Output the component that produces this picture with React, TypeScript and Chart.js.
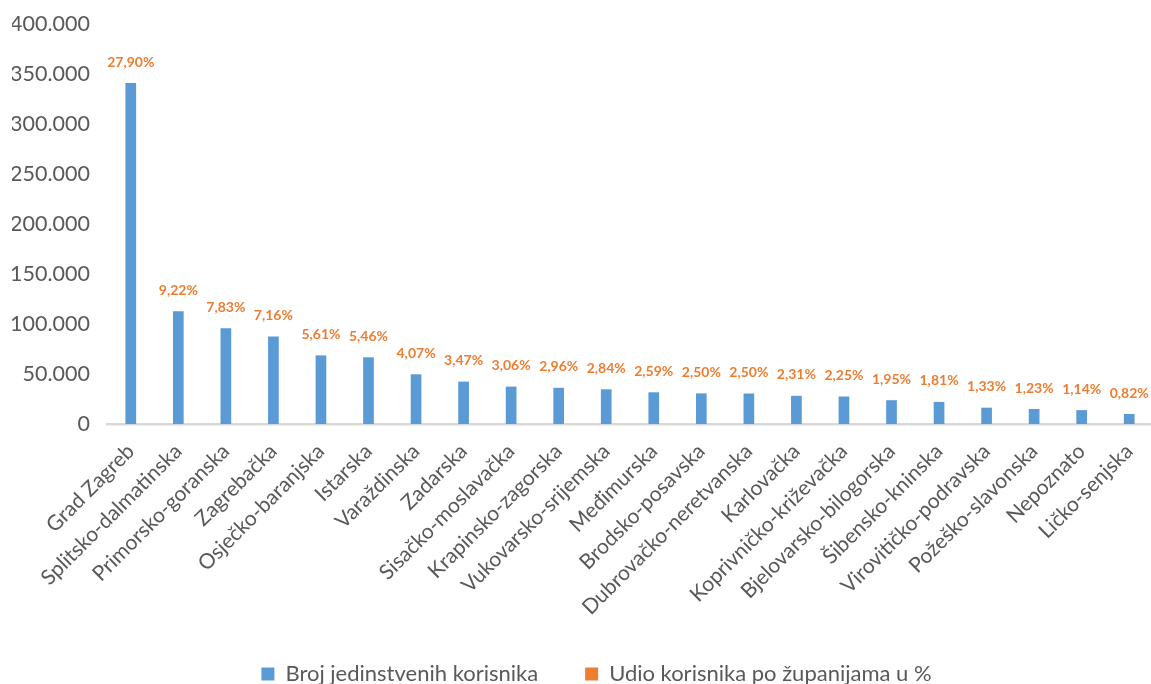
import React, { useEffect, useRef } from "react";
import { Chart, registerables } from "chart.js";

Chart.register(...registerables);

const categories = [
  "Grad Zagreb",
  "Splitsko-dalmatinska",
  "Primorsko-goranska",
  "Zagrebačka",
  "Osječko-baranjska",
  "Istarska",
  "Varaždinska",
  "Zadarska",
  "Sisačko-moslavačka",
  "Krapinsko-zagorska",
  "Vukovarsko-srijemska",
  "Međimurska",
  "Brodsko-posavska",
  "Dubrovačko-neretvanska",
  "Karlovačka",
  "Koprivničko-križevačka",
  "Bjelovarsko-bilogorska",
  "Šibensko-kninska",
  "Virovitičko-podravska",
  "Požeško-slavonska",
  "Nepoznato",
  "Ličko-senjska",
];

const users = [
  341000, 112700, 95700, 87500, 68600, 66700, 49700, 42400, 37400, 36200, 34700,
  31700, 30600, 30500, 28200, 27500, 23800, 22100, 16300, 15000, 13900, 10000,
];

const sharePct = [
  27.9, 9.22, 7.83, 7.16, 5.61, 5.46, 4.07, 3.47, 3.06, 2.96, 2.84, 2.59, 2.5,
  2.5, 2.31, 2.25, 1.95, 1.81, 1.33, 1.23, 1.14, 0.82,
];

const yTicks = [0, 50000, 100000, 150000, 200000, 250000, 300000, 350000, 400000];

const seriesNames = ["Broj jedinstvenih korisnika", "Udio korisnika po županijama u %"];

const BLUE = "#5B9BD5";
const ORANGE = "#ED7D31";
const TEXT = "#595959";
const FONT = "Lato, 'Open Sans', sans-serif";

function formatThousands(v: number): string {
  const s = Math.round(v).toString();
  return s.replace(/\B(?=(\d{3})+(?!\d))/g, ".");
}

function formatPct(v: number): string {
  return v.toFixed(2).replace(".", ",") + "%";
}

const pctLabelPlugin = {
  id: "pctLabels",
  afterDatasetsDraw(chart: any) {
    const ctx = chart.ctx;
    const meta = chart.getDatasetMeta(0);
    const pctData = chart.data.datasets[1].data as number[];
    ctx.save();
    ctx.font = `bold 14px ${FONT}`;
    ctx.fillStyle = ORANGE;
    ctx.textAlign = "center";
    ctx.textBaseline = "middle";
    meta.data.forEach((bar: any, i: number) => {
      ctx.fillText(formatPct(pctData[i]), bar.x, bar.y - 21);
    });
    ctx.restore();
  },
};

export default function App() {
  const ref = useRef<HTMLCanvasElement | null>(null);

  useEffect(() => {
    if (!ref.current) return;
    const chart = new Chart(ref.current, {
      type: "bar",
      data: {
        labels: categories,
        datasets: [
          {
            type: "bar",
            label: seriesNames[0],
            data: users,
            backgroundColor: BLUE,
            borderWidth: 0,
            barPercentage: 0.45,
            categoryPercentage: 0.5,
            yAxisID: "y",
          },
          {
            type: "line",
            label: seriesNames[1],
            data: sharePct,
            backgroundColor: ORANGE,
            borderColor: ORANGE,
            borderWidth: 0,
            showLine: false,
            pointRadius: 0,
            yAxisID: "yPct",
          } as any,
        ],
      },
      options: {
        responsive: false,
        animation: false,
        events: [],
        layout: { padding: { left: 12, right: 0, top: 24, bottom: -11 } },
        plugins: {
          legend: {
            display: true,
            position: "bottom",
            labels: {
              color: TEXT,
              font: { family: FONT, size: 22 },
              boxWidth: 13,
              boxHeight: 13,
              padding: 47,
            },
          },
          tooltip: { enabled: false },
        },
        scales: {
          x: {
            grid: { display: false, drawTicks: false },
            border: { display: true, color: "#D9D9D9", width: 2.5 },
            afterFit: (scale: any) => {
              scale.height = 192;
            },
            ticks: {
              color: TEXT,
              font: { family: FONT, size: 21 },
              maxRotation: 45,
              minRotation: 45,
              autoSkip: false,
              padding: 15,
            },
          },
          y: {
            position: "left",
            min: 0,
            max: 400000,
            afterBuildTicks: (scale: any) => {
              scale.ticks = yTicks.map((v) => ({ value: v }));
            },
            afterFit: (scale: any) => {
              scale.width = 95;
              scale.paddingTop = 0;
            },
            grid: { display: false, drawTicks: false },
            border: { display: false },
            ticks: {
              color: TEXT,
              font: { family: FONT, size: 21.5 },
              padding: 17,
              callback: (v: any) => formatThousands(Number(v)),
            },
          },
          yPct: {
            position: "right",
            display: true,
            min: 0,
            max: 100,
            afterFit: (scale: any) => {
              scale.width = 28;
              scale.paddingTop = 0;
            },
            grid: { display: false, drawTicks: false },
            border: { display: false },
            ticks: { display: false },
          },
        },
      },
      plugins: [pctLabelPlugin],
    });
    return () => chart.destroy();
  }, []);

  return (
    <div
      style={{
        position: "absolute",
        left: 0,
        top: 0,
        width: 1151,
        height: 684,
        overflow: "hidden",
        background: "#fff",
      }}
    >
      <canvas ref={ref} width={1181} height={684} style={{ display: "block" }} />
    </div>
  );
}
